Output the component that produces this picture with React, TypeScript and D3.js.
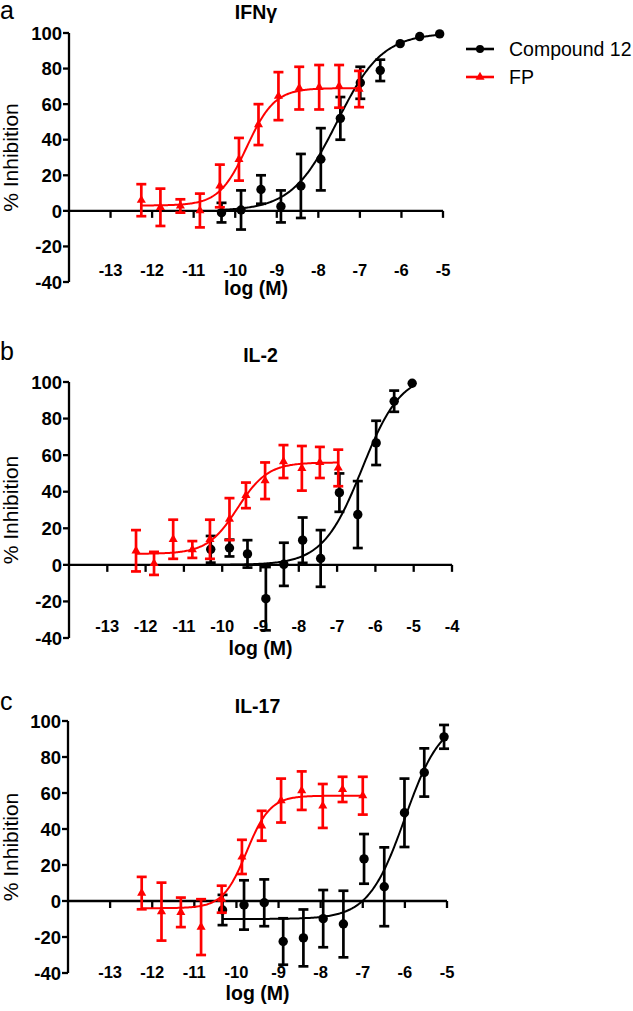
import React from "react";
import * as d3 from "d3";

// ---------- DATA ----------
// Panel a: IFNγ
const aC12X = [-10.33, -9.86, -9.38, -8.9, -8.42, -7.94, -7.47, -6.99, -6.51, -6.03, -5.56, -5.08];
const aC12Y = [-1, 0.5, 12, 2.5, 14, 29, 52, 72, 79, 94, 98, 99.5];
const aC12E = [5.5, 11, 8, 9, 18, 17.5, 12, 9, 6, 0, 0, 0];
const aFPX = [-12.26, -11.8, -11.32, -10.85, -10.37, -9.91, -9.44, -8.96, -8.46, -7.98, -7.5, -7.02];
const aFPY = [6, 2, 2.75, 0.2, 14, 29, 48.5, 64.5, 69, 69.5, 70, 68.5];
const aFPE = [9, 10.5, 3.75, 9.5, 12, 12, 11.5, 13.5, 12, 12.5, 12, 10.2];
// fit parameters: bottom, top, logIC50, hill slope
const aC12Fit = [0, 100, -7.55, 0.8];
const aFPFit = [3, 69, -9.72, 1.3];

// Panel b: IL-2
const bC12X = [-10.3, -9.81, -9.34, -8.86, -8.39, -7.9, -7.43, -6.94, -6.46, -5.98, -5.51, -5.04];
const bC12Y = [8.5, 9.2, 6, -18.5, 0.3, 13.5, 3.5, 39.5, 27.5, 66.7, 89.5, 99.3];
const bC12E = [7.3, 4.6, 7.5, 17.3, 11.8, 12.4, 15.5, 10.5, 18.3, 12.1, 5.8, 0];
const bFPX = [-12.25, -11.78, -11.28, -10.78, -10.32, -9.81, -9.38, -8.88, -8.4, -7.92, -7.45, -6.97];
const bFPY = [7.7, 0.8, 14, 8.4, 14, 25, 38, 46, 56.5, 52.8, 56, 53];
const bFPE = [11.3, 6.3, 10.7, 4.6, 10.7, 11.5, 7, 10, 9, 12.2, 8.5, 10];
const bC12Fit = [0, 105, -6.35, 0.85];
const bFPFit = [6, 56, -9.6, 1.1];

// Panel c: IL-17
const cC12X = [-10.33, -9.82, -9.34, -8.89, -8.41, -7.94, -7.46, -6.97, -6.49, -6.01, -5.54, -5.07];
const cC12Y = [-5, -2.2, -1, -22.5, -20.5, -9.8, -12.8, 23.4, 7.9, 49, 71.4, 91.2];
const cC12E = [8.4, 13.7, 13, 12.9, 15.8, 15.9, 18.5, 13.8, 21.9, 19, 13.4, 6.6];
const cFPX = [-12.25, -11.78, -11.32, -10.84, -10.35, -9.87, -9.4, -8.94, -8.45, -7.95, -7.48, -7.0];
const cFPY = [4.4, -5.9, -6.3, -14.5, 1, 24.5, 41.8, 55.8, 61.3, 52.8, 62, 58.5];
const cFPE = [9, 16.1, 8.2, 15.5, 7.5, 9.5, 8.3, 12.2, 10.7, 12.2, 7, 10.5];
const cC12Fit = [-10, 102, -6.0, 1.0];
const cFPFit = [-4, 58.5, -9.76, 1.55];

const yTicks = [-40, -20, 0, 20, 40, 60, 80, 100];
const xTicksA = [-13, -12, -11, -10, -9, -8, -7, -6, -5];
const xTicksB = [-13, -12, -11, -10, -9, -8, -7, -6, -5, -4];
const xTicksC = [-13, -12, -11, -10, -9, -8, -7, -6, -5];

const seriesNames = ["Compound 12", "FP"];
const titles = ["IFNγ", "IL-2", "IL-17"];
const letters = ["a", "b", "c"];
const yLabel = "% Inhibition";
const xLabel = "log (M)";

// ---------- LAYOUT ----------
const W = 633;
const H = 1011;
const FONT = "'Liberation Sans', Arial, Helvetica, sans-serif";
const BLACK = "#000000";
const RED = "#ff0000";

type Series = { x: number[]; y: number[]; e: number[]; fit: number[] };
type PanelCfg = {
  letter: string;
  title: string;
  left: number;
  right: number;
  top: number;
  bottom: number;
  xDomain: [number, number];
  xTicks: number[];
  letterY: number;
  titleY: number;
  tickLabelY: number;
  xLabelY: number;
  c12: Series;
  fp: Series;
};

const panels: PanelCfg[] = [
  {
    letter: letters[0], title: titles[0],
    left: 69, right: 443, top: 33, bottom: 282, xDomain: [-14, -5], xTicks: xTicksA,
    letterY: 19, titleY: 19, tickLabelY: 276, xLabelY: 295,
    c12: { x: aC12X, y: aC12Y, e: aC12E, fit: aC12Fit },
    fp: { x: aFPX, y: aFPY, e: aFPE, fit: aFPFit },
  },
  {
    letter: letters[1], title: titles[1],
    left: 69, right: 452, top: 382, bottom: 638, xDomain: [-14, -4], xTicks: xTicksB,
    letterY: 360, titleY: 362, tickLabelY: 632, xLabelY: 655,
    c12: { x: bC12X, y: bC12Y, e: bC12E, fit: bC12Fit },
    fp: { x: bFPX, y: bFPY, e: bFPE, fit: bFPFit },
  },
  {
    letter: letters[2], title: titles[2],
    left: 68, right: 447, top: 721, bottom: 973, xDomain: [-14, -5], xTicks: xTicksC,
    letterY: 710, titleY: 713, tickLabelY: 978, xLabelY: 1000,
    c12: { x: cC12X, y: cC12Y, e: cC12E, fit: cC12Fit },
    fp: { x: cFPX, y: cFPY, e: cFPE, fit: cFPFit },
  },
];

function fourPL(fit: number[], x: number) {
  const [bottom, top, logIC50, hill] = fit;
  return bottom + (top - bottom) / (1 + Math.pow(10, (logIC50 - x) * hill));
}

const triangle = d3.symbol().type(d3.symbolTriangle).size(36);

function SeriesMarks({ s, color, xs, ys, marker }: { s: Series; color: string; xs: d3.ScaleLinear<number, number>; ys: d3.ScaleLinear<number, number>; marker: "circle" | "triangle" }) {
  const x0 = d3.min(s.x) as number;
  const x1 = d3.max(s.x) as number;
  const n = 200;
  const pts: [number, number][] = d3.range(n + 1).map((i) => {
    const xv = x0 + ((x1 - x0) * i) / n;
    return [xv, fourPL(s.fit, xv)];
  });
  const line = d3.line<[number, number]>().x((d) => xs(d[0])).y((d) => ys(d[1])).curve(d3.curveLinear);
  const cap = 5;
  return (
    <g>
      <path d={line(pts) || ""} fill="none" stroke={color} strokeWidth={2} />
      {s.x.map((xv, i) => {
        const cx = xs(xv);
        const yt = ys(s.y[i] + s.e[i]);
        const yb = ys(s.y[i] - s.e[i]);
        if (s.e[i] <= 0) return null;
        return (
          <g key={"e" + i} stroke={color} strokeWidth={2.7}>
            <line x1={cx} x2={cx} y1={yt} y2={yb} />
            <line x1={cx - cap} x2={cx + cap} y1={yt} y2={yt} />
            <line x1={cx - cap} x2={cx + cap} y1={yb} y2={yb} />
          </g>
        );
      })}
      {s.x.map((xv, i) => {
        const cx = xs(xv);
        const cy = ys(s.y[i]);
        return marker === "circle" ? (
          <circle key={"m" + i} cx={cx} cy={cy} r={4.7} fill={color} />
        ) : (
          <path key={"m" + i} d={triangle() || ""} transform={`translate(${cx},${cy})`} fill={color} />
        );
      })}
    </g>
  );
}

function Panel({ p }: { p: PanelCfg }) {
  const xs = d3.scaleLinear().domain(p.xDomain).range([p.left, p.right]);
  const ys = d3.scaleLinear().domain([-40, 100]).range([p.bottom, p.top]);
  const y0 = ys(0);
  const cy = (p.top + p.bottom) / 2;
  return (
    <g>
      <text x={0} y={p.letterY} fontFamily={FONT} fontSize={25} fill={BLACK}>{p.letter}</text>
      <text x={(p.left + p.right) / 2} y={p.titleY} textAnchor="middle" fontFamily={FONT} fontSize={19.5} fontWeight="bold" fill={BLACK}>{p.title}</text>
      {/* y axis */}
      <line x1={p.left} x2={p.left} y1={ys(-40)} y2={ys(100)} stroke={BLACK} strokeWidth={2.3} />
      {yTicks.map((t) => (
        <g key={"yt" + t}>
          <line x1={p.left - 6} x2={p.left} y1={ys(t)} y2={ys(t)} stroke={BLACK} strokeWidth={2.3} />
          <text x={p.left - 7} y={ys(t)} dy="0.36em" textAnchor="end" fontFamily={FONT} fontSize={18.5} fontWeight="bold" fill={BLACK}>{t}</text>
        </g>
      ))}
      <text transform={`translate(${18},${cy}) rotate(-90)`} textAnchor="middle" fontFamily={FONT} fontSize={21} fill={BLACK}>{yLabel}</text>
      {/* x axis at y = 0 */}
      <line x1={p.left} x2={xs(p.xDomain[1])} y1={y0} y2={y0} stroke={BLACK} strokeWidth={2.3} />
      {p.xTicks.map((t) => (
        <g key={"xt" + t}>
          <line x1={xs(t)} x2={xs(t)} y1={y0} y2={y0 + 7} stroke={BLACK} strokeWidth={2.3} />
          <text x={xs(t)} y={p.tickLabelY} textAnchor="middle" fontFamily={FONT} fontSize={16.5} fontWeight="bold" fill={BLACK}>{t}</text>
        </g>
      ))}
      <text x={(p.left + p.right) / 2} y={p.xLabelY} textAnchor="middle" fontFamily={FONT} fontSize={19.5} fontWeight="bold" fill={BLACK}>{xLabel}</text>
      <SeriesMarks s={p.c12} color={BLACK} xs={xs} ys={ys} marker="circle" />
      <SeriesMarks s={p.fp} color={RED} xs={xs} ys={ys} marker="triangle" />
    </g>
  );
}

function Legend() {
  const items = [
    { name: seriesNames[0], color: BLACK, marker: "circle", y: 49 },
    { name: seriesNames[1], color: RED, marker: "triangle", y: 77 },
  ];
  return (
    <g>
      {items.map((it) => (
        <g key={it.name}>
          <line x1={466} x2={494} y1={it.y} y2={it.y} stroke={it.color} strokeWidth={2.6} />
          {it.marker === "circle" ? (
            <circle cx={480} cy={it.y} r={4} fill={it.color} />
          ) : (
            <path d={triangle() || ""} transform={`translate(480,${it.y})`} fill={it.color} />
          )}
          <text x={509} y={it.y} dy="0.36em" fontFamily={FONT} fontSize={19.5} fill={BLACK}>{it.name}</text>
        </g>
      ))}
    </g>
  );
}

export default function App() {
  return (
    <svg width={W} height={H} viewBox={`0 0 ${W} ${H}`} style={{ position: "absolute", left: 0, top: 0, background: "#fff" }}>
      <rect x={0} y={0} width={W} height={H} fill="#ffffff" />
      {panels.map((p) => (
        <Panel key={p.letter} p={p} />
      ))}
      <Legend />
    </svg>
  );
}
